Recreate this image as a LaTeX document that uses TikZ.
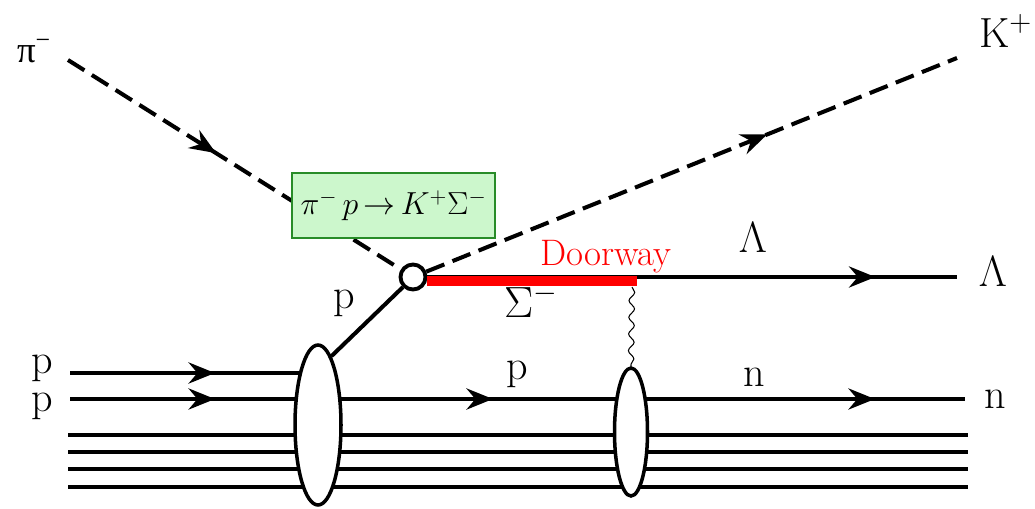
\documentclass[tikz,border=0pt]{standalone}
\usepackage{fontspec}
\usepackage{graphicx}
\newfontfamily\tnr{Liberation Serif}
\usetikzlibrary{arrows.meta,decorations.markings,decorations.pathmorphing,shapes.geometric,backgrounds}
\definecolor{boxfill}{RGB}{204,247,204}
\definecolor{boxline}{RGB}{40,140,40}
\pgfkeys{/pgf/decoration/tipat/.style={mark=at position #1 with {\arrow{Stealth[length=15pt,width=12pt,inset=5pt]}}}}
\begin{document}
\begin{tikzpicture}[x=0.02cm,y=-0.02cm,
  line width=2.3pt,
  marks/.style={postaction={decorate},decoration={markings,#1}},
  dashline/.style={dash pattern=on 11pt off 5pt},
  lbl/.style={font=\fontsize{24}{28}\selectfont, inner sep=0pt, anchor=base},
  blob/.style={ellipse, draw, fill=white, inner sep=0pt, line width=2pt}]
\useasboundingbox (0,0) rectangle (1035,508);

% nodes
\node[circle, draw, fill=white, inner sep=0pt, minimum size=0.5cm, line width=2.2pt] (v) at (413,277) {};
\node[blob, minimum width=0.92cm, minimum height=3.2cm] (e1) at (318,425) {};
\node[blob, minimum width=0.66cm, minimum height=2.56cm] (e2) at (631,432) {};

\coordinate (piS) at (68,60);
\coordinate (kE) at (957,58);
\coordinate (lamE) at (957,277);
\coordinate (dwS) at (427,281);
\coordinate (dwE) at (637,281);
\coordinate (wv) at (632,287);
\coordinate (pa) at (70,373);
\coordinate (pb) at (318,373);
\coordinate (qa) at (70,399);
\coordinate (qb) at (965,399);
\coordinate (r1a) at (68,435); \coordinate (r1b) at (968,435);
\coordinate (r2a) at (68,452); \coordinate (r2b) at (968,452);
\coordinate (r3a) at (68,469); \coordinate (r3b) at (968,469);
\coordinate (r4a) at (68,487); \coordinate (r4b) at (968,487);

\begin{scope}[on background layer]
 \begin{scope}[line width=2.3pt]
  \draw[marks={tipat=2.9cm}] (pa) -- (pb);
  \draw[marks={tipat=2.9cm, tipat=8.46cm, tipat=16.1cm}] (qa) -- (qb);
  \draw (r1a) -- (r1b);
  \draw (r2a) -- (r2b);
  \draw (r3a) -- (r3b);
  \draw (r4a) -- (r4b);
 \end{scope}
\end{scope}

% incoming pion and outgoing kaon
\draw[dashline, marks={tipat=3.5cm}] (piS) -- (v);
\draw[dashline, marks={tipat=7.35cm}] (v) -- (kE);

% Lambda line and doorway bar
\draw[marks={tipat=8.96cm}] (v.east) -- (lamE);
\draw[red, line width=5.8pt] (dwS) -- (dwE);

% proton from nucleus to vertex
\draw (e1.79) -- (v.225);

% exchange (wavy)
\draw[line width=0.6pt, decorate, decoration={snake, amplitude=1.6pt, segment length=9.5pt}] (wv) -- (e2.north);

% reaction box
\node[draw=boxline, fill=boxfill, line width=1.2pt, minimum width=4.06cm, minimum height=1.3cm, inner sep=0pt,
      font=\fontsize{19.5}{23}\selectfont] (box) at (393.5,205.5)
  {\resizebox{3.72cm}{!}{$\pi^{-}\,p\,{\rightarrow}\,K^{+}\Sigma^{-}$}};

% labels
\node[lbl, anchor=base west, font=\tnr\fontsize{21}{24}\selectfont] (piL) at (15,62) {π\textsuperscript{−}};
\node[lbl, anchor=base west] (kL) at (977,47) {K$^{+}$};
\node[lbl, font=\fontsize{21}{24}\selectfont, text=red] (door) at (606,265) {Doorway};
\node[lbl, anchor=base west] (sigL) at (502,317) {$\Sigma^{-}$};
\node[lbl] (lamM) at (753,252) {$\Lambda$};
\node[lbl] (lamR) at (993,286) {$\Lambda$};
\node[lbl] (pV) at (344,308) {p};
\node[lbl] (p1) at (42,373) {p};
\node[lbl] (p2) at (42,411) {p};
\node[lbl] (pM) at (517,379) {p};
\node[lbl] (nM) at (754,386) {n};
\node[lbl] (nR) at (995,408) {n};
\end{tikzpicture}
\end{document}
